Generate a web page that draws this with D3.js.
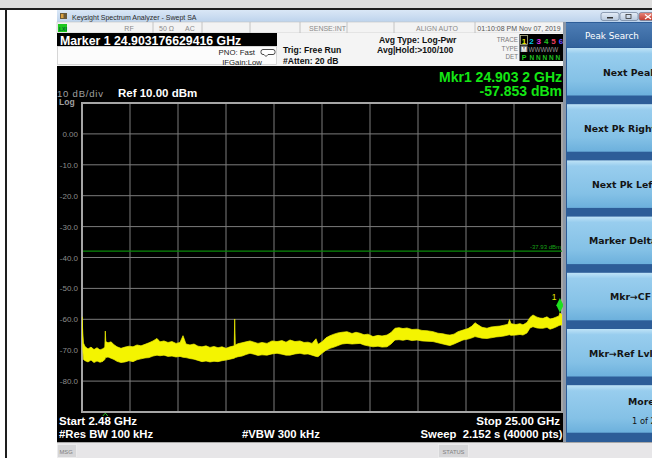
<!DOCTYPE html>
<html><head><meta charset="utf-8">
<script src="https://cdn.jsdelivr.net/npm/d3@7"></script>
<style>html,body{margin:0;padding:0;background:#fff;overflow:hidden}svg{display:block}</style>
</head><body><svg id="c" width="652" height="458"></svg>
<script>
// ---- Sweep settings ----
const startGHz = 2.48, stopGHz = 25.0;
const refLevelDbm = 10, bottomDbm = -90;
const yTickDbm = [0, -10, -20, -30, -40, -50, -60, -70, -80];
const yTickLabels = ["0.00", "-10.0", "-20.0", "-30.0", "-40.0", "-50.0", "-60.0", "-70.0", "-80.0"];
const displayLineDbm = -37.93;
const markerFreqGHz = 24.903176629416, markerDbm = -57.853;
const caretFreqGHz = 3.573;

// ---- Trace envelope (max / min of the averaged sweep) ----
const traceFreqGHz = [
  2.480, 2.518, 2.550, 2.621, 2.762, 2.902, 3.043, 3.184, 3.325, 3.465,
  3.550, 3.573, 3.597, 3.700, 3.841, 3.981, 4.122, 4.310, 4.497, 4.685,
  4.873, 5.060, 5.248, 5.436, 5.623, 5.811, 5.999, 6.139, 6.327, 6.515,
  6.702, 6.890, 7.078, 7.219, 7.359, 7.547, 7.735, 7.922, 8.110, 8.298,
  8.485, 8.673, 8.861, 9.048, 9.236, 9.424, 9.621, 9.644, 9.672, 9.799,
  9.987, 10.174, 10.362, 10.550, 10.737, 10.925, 11.160, 11.394, 11.629, 11.863,
  12.051, 12.239, 12.473, 12.708, 12.897, 13.084, 13.271, 13.459, 13.552, 13.740,
  13.928, 14.115, 14.303, 14.491, 14.678, 14.913, 15.148, 15.335, 15.523, 15.711,
  15.898, 16.133, 16.367, 16.555, 16.790, 16.977, 17.165, 17.352, 17.540, 17.728,
  17.962, 18.197, 18.432, 18.666, 18.948, 19.182, 19.417, 19.605, 19.745, 19.933,
  20.121, 20.355, 20.590, 20.777, 20.918, 21.059, 21.247, 21.481, 21.669, 21.903,
  22.091, 22.279, 22.467, 22.537, 22.607, 22.842, 23.030, 23.170, 23.358, 23.499,
  23.639, 23.827, 23.968, 24.108, 24.296, 24.437, 24.577, 24.718, 24.859, 24.903,
  25.000];
const traceUpperDbm = [
  -59.2, -64.5, -67.7, -68.8, -69.6, -69.0, -69.8, -69.2, -69.9, -69.5,
  -69.0, -63.8, -67.2, -67.6, -67.3, -68.2, -68.9, -69.4, -69.0, -68.7,
  -68.9, -68.3, -68.6, -68.1, -67.6, -67.0, -66.2, -67.3, -67.0, -67.5,
  -67.2, -67.8, -67.5, -65.3, -68.0, -68.3, -68.0, -68.7, -68.9, -68.6,
  -69.1, -68.8, -69.2, -68.9, -69.4, -68.9, -68.6, -59.9, -68.3, -67.9,
  -67.6, -67.3, -67.0, -67.4, -67.8, -67.5, -67.8, -67.0, -67.2, -66.9,
  -67.4, -66.7, -67.2, -67.0, -67.5, -67.4, -67.8, -66.3, -68.1, -67.3,
  -66.0, -65.3, -64.8, -64.4, -64.2, -64.0, -64.6, -64.2, -64.5, -65.0,
  -64.8, -65.6, -65.2, -65.4, -65.1, -64.3, -62.9, -62.7, -63.0, -62.8,
  -63.3, -63.2, -63.6, -63.7, -64.0, -64.5, -64.7, -65.0, -65.1, -64.8,
  -64.0, -63.5, -63.0, -62.2, -61.1, -61.8, -62.6, -62.9, -62.5, -62.3,
  -62.2, -61.9, -61.6, -60.1, -61.4, -61.7, -61.4, -61.8, -61.0, -59.4,
  -58.6, -59.3, -59.6, -59.7, -59.2, -59.9, -59.7, -59.3, -58.9, -57.9,
  -58.6];
const traceLowerDbm = [
  -64.0, -70.0, -73.0, -73.4, -73.8, -73.2, -74.0, -73.5, -73.9, -73.6,
  -73.0, -72.5, -72.4, -72.2, -72.6, -73.0, -73.6, -74.0, -73.8, -73.4,
  -73.7, -73.1, -72.8, -72.5, -72.4, -71.9, -71.6, -71.8, -71.6, -72.0,
  -71.9, -72.2, -72.0, -72.3, -72.4, -72.7, -72.9, -73.3, -73.7, -73.5,
  -73.8, -73.6, -73.7, -73.4, -73.2, -72.9, -72.6, -72.5, -72.4, -72.1,
  -71.9, -71.4, -71.0, -71.3, -71.7, -71.5, -71.6, -71.2, -71.0, -71.3,
  -71.6, -71.6, -71.2, -71.0, -71.3, -71.2, -71.6, -72.0, -72.1, -71.0,
  -70.0, -69.4, -69.0, -68.5, -68.0, -67.8, -68.0, -67.9, -67.8, -68.3,
  -68.6, -68.9, -68.7, -69.0, -68.9, -68.0, -66.7, -66.6, -66.8, -66.5,
  -66.9, -66.7, -67.0, -67.1, -67.2, -67.6, -68.0, -68.3, -68.5, -68.0,
  -67.4, -66.7, -66.4, -66.0, -65.6, -65.8, -66.1, -66.2, -66.0, -65.7,
  -65.6, -65.4, -65.1, -65.0, -65.2, -65.1, -64.9, -65.1, -64.4, -62.8,
  -62.4, -62.8, -62.9, -62.9, -62.6, -63.2, -62.9, -62.5, -62.0, -61.9,
  -61.8];

// ---- Softkey menu ----
const softkeyLabels = ["Next Peak", "Next Pk Right", "Next Pk Left", "Marker Delta", "Mkr\u2192CF", "Mkr\u2192Ref Lvl", "More"];
const traceNumbers = ["1", "2", "3", "4", "5", "6"];
const traceColors = ["#e8e800", "#00c8e8", "#e030e0", "#20c020", "#f04060", "#6a50ff"];

const W = 652, H = 458;
const arial = "'Liberation Sans', Arial, sans-serif";
const tahoma = "'DejaVu Sans', Verdana, sans-serif";
const svg = d3.select("#c");
const defs = svg.append("defs");

function grad(id, stops) {
  const g = defs.append("linearGradient").attr("id", id).attr("x1", 0).attr("y1", 0).attr("x2", 0).attr("y2", 1);
  stops.forEach(([o, c]) => g.append("stop").attr("offset", o).attr("stop-color", c));
}
grad("gTitle", [[0, "#dae7f6"], [1, "#bdd3ec"]]);
grad("gKey", [[0, "#bfe3f7"], [0.12, "#98cdee"], [0.7, "#84c1e6"], [1, "#6cb0dc"]]);
grad("gHead", [[0, "#4d7db5"], [1, "#33639c"]]);
grad("gWinBtn", [[0, "#e6eef8"], [1, "#b7c8dd"]]);
grad("gClose", [[0, "#e9877c"], [1, "#c1392d"]]);

function txt(g, x, y, s, o = {}) {
  return g.append("text").attr("x", x).attr("y", y).text(s)
    .attr("font-family", o.ff || arial).attr("font-size", o.fs || 8)
    .attr("font-weight", o.fw || "normal").attr("fill", o.fill || "#000")
    .attr("text-anchor", o.anchor || "start");
}

// ---- Page / desktop frame ----
svg.append("rect").attr("width", W).attr("height", H).attr("fill", "#fff");
svg.append("rect").attr("width", W).attr("height", 8).attr("fill", "#dedede");
svg.append("rect").attr("y", 8).attr("width", W).attr("height", 2).attr("fill", "#1e1e1e");
svg.append("rect").attr("x", 5).attr("y", 10).attr("width", 2).attr("height", H - 10).attr("fill", "#1e1e1e");

// ---- Window title bar ----
svg.append("rect").attr("x", 57).attr("y", 10).attr("width", W - 57).attr("height", 12).attr("fill", "url(#gTitle)");
svg.append("rect").attr("x", 60).attr("y", 13).attr("width", 7).attr("height", 6).attr("fill", "#6a5a3a");
svg.append("rect").attr("x", 61).attr("y", 14).attr("width", 2.5).attr("height", 4).attr("fill", "#d8a040");
txt(svg, 72, 19.5, "Keysight Spectrum Analyzer - Swept SA", { fs: 7, fill: "#2a2a2a" });
[[601, "url(#gWinBtn)"], [620, "url(#gWinBtn)"], [639, "url(#gClose)"]].forEach(([bx, f]) => {
  svg.append("rect").attr("x", bx).attr("y", 12.5).attr("width", 18).attr("height", 8).attr("rx", 2)
    .attr("fill", f).attr("stroke", "#6d7f99").attr("stroke-width", 0.7);
});
svg.append("rect").attr("x", 607).attr("y", 17).attr("width", 6).attr("height", 1.5).attr("fill", "#333");
svg.append("rect").attr("x", 626).attr("y", 14.5).attr("width", 5).attr("height", 4).attr("fill", "none").attr("stroke", "#333").attr("stroke-width", 0.8);
svg.append("path").attr("d", "M645,14.5 L651,19 M651,14.5 L645,19").attr("stroke", "#fff").attr("stroke-width", 1.2);

// ---- Status row ----
svg.append("rect").attr("x", 57).attr("y", 22).attr("width", 508).attr("height", 11).attr("fill", "#f3f3f3").attr("stroke", "#c4c4c4").attr("stroke-width", 0.6);
svg.append("rect").attr("x", 58).attr("y", 24).attr("width", 9).attr("height", 8).attr("fill", "#1ec81e");
txt(svg, 59, 30.5, "LXI", { fs: 5, fill: "#063", fw: "bold" });
[153, 202, 250, 300, 347, 394, 475].forEach(sx => {
  svg.append("line").attr("x1", sx).attr("x2", sx).attr("y1", 22).attr("y2", 33).attr("stroke", "#b8b8b8").attr("stroke-width", 0.8);
});
txt(svg, 129, 30.5, "RF", { fs: 7, fill: "#8a8a8a", anchor: "middle" });
txt(svg, 159, 30.5, "50 \u03a9", { fs: 7, fill: "#8a8a8a" });
txt(svg, 185, 30.5, "AC", { fs: 7, fill: "#8a8a8a" });
txt(svg, 346, 30.5, "SENSE:INT", { fs: 7, fill: "#8a8a8a", anchor: "end" });
txt(svg, 437, 30.5, "ALIGN AUTO", { fs: 7, fill: "#8a8a8a", anchor: "middle" });
txt(svg, 519, 30.5, "01:10:08 PM Nov 07, 2019", { fs: 7, fill: "#555", anchor: "middle" });

// ---- Info panel ----
svg.append("rect").attr("x", 57).attr("y", 33).attr("width", 508).attr("height", 33).attr("fill", "#f4f4f4");
svg.append("rect").attr("x", 57).attr("y", 33).attr("width", 220).attr("height", 13).attr("fill", "#000");
txt(svg, 60, 44.5, "Marker 1 24.903176629416 GHz", { fs: 12.3, fw: "bold", fill: "#fff" });
svg.append("rect").attr("x", 57.5).attr("y", 46.5).attr("width", 219).attr("height", 18).attr("fill", "#fcfcfc").attr("stroke", "#c8c8c8").attr("stroke-width", 0.7);
txt(svg, 255, 55, "PNO: Fast", { fs: 7.8, fill: "#222", anchor: "end" });
txt(svg, 262, 64.5, "IFGain:Low", { fs: 7.8, fill: "#222", anchor: "end" });
svg.append("path").attr("d", "M263,49.5 h10 a2,2 0 0 1 2,2 v1 a2,2 0 0 1 -2,2 h-5 l-2,2 l-2,-2 h-1 a2,2 0 0 1 -2,-2 v-1 a2,2 0 0 1 2,-2 z")
  .attr("fill", "#fff").attr("stroke", "#333").attr("stroke-width", 0.9);
txt(svg, 283, 53, "Trig: Free Run", { fs: 8.6, fw: "bold", fill: "#111" });
txt(svg, 283, 63.5, "#Atten: 20 dB", { fs: 8.6, fw: "bold", fill: "#111" });
txt(svg, 379, 43, "Avg Type: Log-Pwr", { fs: 8.6, fw: "bold", fill: "#111" });
txt(svg, 377, 53, "Avg|Hold:>100/100", { fs: 8.6, fw: "bold", fill: "#111" });

// Trace / detector table
txt(svg, 518, 42, "TRACE", { fs: 6.3, fill: "#7a7a7a", anchor: "end" });
txt(svg, 518, 50.5, "TYPE", { fs: 6.3, fill: "#7a7a7a", anchor: "end" });
txt(svg, 518, 59, "DET", { fs: 6.3, fill: "#7a7a7a", anchor: "end" });
svg.append("rect").attr("x", 519.5).attr("y", 34).attr("width", 45).attr("height", 27).attr("fill", "#000");
svg.append("rect").attr("x", 520.5).attr("y", 35.5).attr("width", 7).attr("height", 9).attr("fill", "none").attr("stroke", "#d0d0a0").attr("stroke-width", 0.7);
traceNumbers.forEach((n, i) => txt(svg, 524 + i * 7.4, 43.5, n, { fs: 8, fw: "bold", fill: traceColors[i], anchor: "middle" }));
svg.append("rect").attr("x", 520.5).attr("y", 45.5).attr("width", 7).attr("height", 6.5).attr("fill", "#7a7a7a");
txt(svg, 524, 51.5, "M", { fs: 6.5, fw: "bold", fill: "#fff", anchor: "middle" });
txt(svg, 528.5, 51.5, "WWWWW", { fs: 6.3, fill: "#9a9a9a" });
txt(svg, 524, 59.5, "P", { fs: 7, fw: "bold", fill: "#20d020", anchor: "middle" });
txt(svg, 529.5, 59.5, "N N N N N", { fs: 6.5, fw: "bold", fill: "#20c020" });

// ---- Display area ----
svg.append("rect").attr("x", 57).attr("y", 66).attr("width", 507).attr("height", 376).attr("fill", "#000");

const plot = { left: 82, right: 562, top: 103, bottom: 412 };
const x = d3.scaleLinear().domain([startGHz, stopGHz]).range([plot.left, plot.right]);
const y = d3.scaleLinear().domain([bottomDbm, refLevelDbm]).range([plot.bottom, plot.top]);

const grid = svg.append("g");
const xGrid = d3.range(0, 11).map(i => startGHz + i * (stopGHz - startGHz) / 10);
const yGrid = d3.range(bottomDbm, refLevelDbm + 1, 10);
grid.selectAll("line.v").data(xGrid.slice(1, -1)).join("line")
  .attr("x1", d => x(d)).attr("x2", d => x(d)).attr("y1", plot.top).attr("y2", plot.bottom)
  .attr("stroke", "#7c7c7c").attr("stroke-width", 1);
grid.selectAll("line.h").data(yGrid.slice(1, -1)).join("line")
  .attr("x1", plot.left).attr("x2", plot.right).attr("y1", d => y(d)).attr("y2", d => y(d))
  .attr("stroke", "#7c7c7c").attr("stroke-width", 1);
grid.append("rect").attr("x", plot.left).attr("y", plot.top).attr("width", plot.right - plot.left).attr("height", plot.bottom - plot.top)
  .attr("fill", "none").attr("stroke", "#a6a6a6").attr("stroke-width", 2);

// Y axis labels
const yAxis = d3.axisLeft(y).tickValues(yTickDbm).tickSize(0).tickPadding(0)
  .tickFormat((d, i) => yTickLabels[i]);
const ya = svg.append("g").attr("transform", `translate(${plot.left - 4},0)`).call(yAxis);
ya.select(".domain").remove();
ya.selectAll("text").attr("font-family", arial).attr("font-size", 8).attr("fill", "#8c8c8c");

// Header texts inside display
txt(svg, 57, 96.5, "10 dB/div", { fs: 9.5, fill: "#a0a0a0" }).attr("letter-spacing", 0.8);
txt(svg, 59, 104.5, "Log", { fs: 8.5, fw: "bold", fill: "#a0a0a0" });
txt(svg, 118, 97, "Ref 10.00 dBm", { fs: 11.5, fw: "bold", fill: "#fff" });
txt(svg, 562, 82, "Mkr1 24.903 2 GHz", { fs: 14, fw: "bold", fill: "#14e614", anchor: "end" });
txt(svg, 562, 95.5, "-57.853 dBm", { fs: 14, fw: "bold", fill: "#14e614", anchor: "end" });

// Display line
svg.append("line").attr("x1", plot.left + 1).attr("x2", plot.right).attr("y1", y(displayLineDbm)).attr("y2", y(displayLineDbm))
  .attr("stroke", "#0a8a0a").attr("stroke-width", 1.3);
txt(svg, 561, y(displayLineDbm) - 2.5, "-37.93 dBm", { fs: 6, fill: "#18a018", anchor: "end" });

// Trace
defs.append("clipPath").attr("id", "plotClip").append("rect")
  .attr("x", plot.left).attr("y", plot.top).attr("width", plot.right - plot.left).attr("height", plot.bottom - plot.top);
const traceData = traceFreqGHz.map((f, i) => ({ f, hi: traceUpperDbm[i], lo: traceLowerDbm[i] }));
const area = d3.area().x(d => x(d.f)).y0(d => y(d.lo)).y1(d => y(d.hi));
svg.append("path").datum(traceData).attr("clip-path", "url(#plotClip)").attr("d", area)
  .attr("fill", "#f4f400").attr("stroke", "#f4f400").attr("stroke-width", 0.7).attr("stroke-linejoin", "round");

// Marker 1
const mx = x(markerFreqGHz), my = y(markerDbm);
svg.append("path").attr("d", `M${mx},${my} L${mx + 3.6},${my - 7.3} L${mx},${my - 14.6} L${mx - 3.6},${my - 7.3} Z`)
  .attr("fill", "#1ee01e");
txt(svg, mx - 3.5, my - 12.5, "1", { fs: 8.5, fill: "#e8e800", anchor: "end" });

// Small caret under the graticule
const cx = x(caretFreqGHz);
svg.append("path").attr("d", `M${cx - 2.5},${plot.bottom + 4} L${cx},${plot.bottom + 1.2} L${cx + 2.5},${plot.bottom + 4}`)
  .attr("fill", "none").attr("stroke", "#1ec01e").attr("stroke-width", 1);

// Bottom annotations
txt(svg, 59, 424.5, "Start 2.48 GHz", { fs: 11.5, fw: "bold", fill: "#fff" });
txt(svg, 59, 437.5, "#Res BW 100 kHz", { fs: 11.3, fw: "bold", fill: "#fff" });
txt(svg, 242, 437.5, "#VBW 300 kHz", { fs: 11.3, fw: "bold", fill: "#fff" });
txt(svg, 560, 424.5, "Stop 25.00 GHz", { fs: 11.5, fw: "bold", fill: "#fff", anchor: "end" });
txt(svg, 562.5, 437.5, "Sweep  2.152 s (40000 pts)", { fs: 11.3, fw: "bold", fill: "#fff", anchor: "end" }).attr("xml:space", "preserve").style("white-space", "pre");

// ---- Softkey panel ----
svg.append("rect").attr("x", 563).attr("y", 22).attr("width", W - 563).attr("height", 420).attr("fill", "#2d5d98");
svg.append("rect").attr("x", 563).attr("y", 22).attr("width", 3).attr("height", 420).attr("fill", "#8c97a6");
svg.append("rect").attr("x", 566).attr("y", 23).attr("width", W - 566).attr("height", 24).attr("fill", "url(#gHead)");
txt(svg, 612, 39, "Peak Search", { ff: tahoma, fs: 8.8, fill: "#fff", anchor: "middle" });

const keyTop = 48, keyStep = 56.2, keyFace = 47.5;
const keyTextX = [603, 584, 592, 589, 610, 589, 628];
softkeyLabels.forEach((lab, i) => {
  const ky = keyTop + i * keyStep;
  svg.append("rect").attr("x", 567).attr("y", ky).attr("width", W - 567).attr("height", keyFace).attr("fill", "url(#gKey)");
  const last = i === softkeyLabels.length - 1;
  txt(svg, keyTextX[i], ky + (last ? 19.5 : 27.5), lab, { ff: tahoma, fs: 9.3, fw: "bold", fill: "#141414" });
  if (last) txt(svg, 632, ky + 38.5, "1 of 2", { ff: tahoma, fs: 8.3, fill: "#141414" });
});

// ---- Bottom status bar ----
svg.append("rect").attr("x", 57).attr("y", 442).attr("width", W - 57).attr("height", 16).attr("fill", "#e7e6e8");
svg.append("line").attr("x1", 57).attr("x2", W).attr("y1", 442.5).attr("y2", 442.5).attr("stroke", "#a8a8a8");
svg.append("rect").attr("x", 57.5).attr("y", 444.5).attr("width", 19).attr("height", 13).attr("fill", "#d6d6d8").attr("stroke", "#f4f4f4").attr("stroke-width", 0.6);
txt(svg, 59.5, 453.5, "MSG", { fs: 5.8, fill: "#808080" });
svg.append("rect").attr("x", 438.5).attr("y", 444.5).attr("width", 30).attr("height", 13).attr("fill", "#d6d6d8").attr("stroke", "#f4f4f4").attr("stroke-width", 0.6);
txt(svg, 453.5, 453.5, "STATUS", { fs: 5.8, fill: "#808080", anchor: "middle" });
</script></body></html>
